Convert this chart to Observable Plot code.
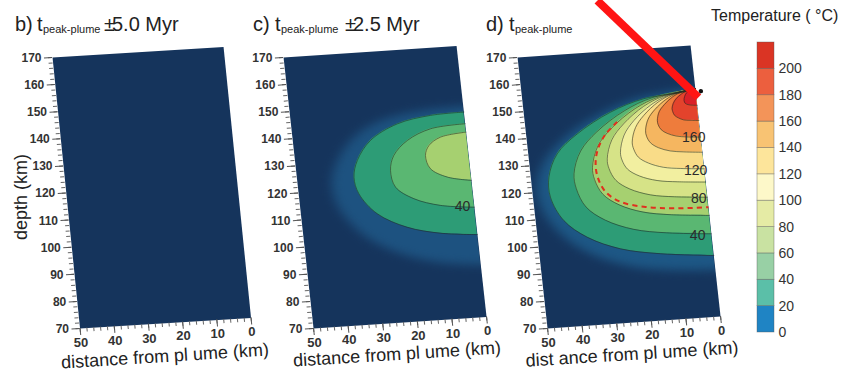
<!DOCTYPE html>
<html><head><meta charset="utf-8">
<script src="https://cdn.jsdelivr.net/npm/d3@7"></script>
<script src="https://cdn.jsdelivr.net/npm/@observablehq/plot@0.6"></script>
<style>
body{margin:0;background:#fff;font-family:"Liberation Sans",Arial,sans-serif;}
#chart{position:relative;width:843px;height:372px;overflow:hidden;background:#fff;}
.t{position:absolute;white-space:nowrap;color:#222;}
</style></head><body><div id="chart"></div>
<script>
// ---------- ticks ----------
const depthTicks = [70, 80, 90, 100, 110, 120, 130, 140, 150, 160, 170];
const distTicks = [0, 10, 20, 30, 40, 50];
const depthMinor = d3.range(70, 171, 2);
const distMinor = d3.range(0, 51, 2);

// ---------- colour levels ----------
const navy = "#15345c";
const fieldLevels = [20, 40, 60, 80, 100, 120, 140, 160, 180, 200];
const fieldColors = ["#2d9c76", "#5ab772", "#a6d070", "#d6e387", "#f2efa0", "#f9dc88", "#f5b660", "#ee7c3c", "#e3432c", "#da2028"];
const barLows = [0, 20, 40, 60, 80, 100, 120, 140, 160, 180, 200];
const barColors = ["#1f84c4", "#5bbfa8", "#98d0a5", "#c9e2a2", "#e5eba5", "#fdf8c9", "#fde59b", "#f8c373", "#f39459", "#ec5f3e", "#da3424"];
const barTicks = [0, 20, 40, 60, 80, 100, 120, 140, 160, 180, 200];

// ---------- panel c: isotherms [distance km, depth km] ----------
const c_iso20 = [[0,145.6],[9.7,145.2],[19.5,142.9],[27.7,137.5],[32.1,130.5],[33.6,124.4],[32.7,118.2],[28.1,110.5],[19.9,104.8],[10.5,101.8],[0,100.4]];
const c_iso40 = [[0,141.3],[10.1,140.3],[17.1,136.6],[21.5,131.4],[22.9,126],[22,119.8],[17.1,115.1],[9.7,112],[0,110.5]];
const c_iso60 = [[0,138.2],[7.5,137],[11.1,134.2],[12.4,130.6],[11.4,125.7],[6.8,122.2],[0,120.4]];
const c_halo = [[0,147.5],[12,147],[22,145],[31,140],[37,132],[40,123],[39,114],[33.5,104],[24,96],[12,91],[0,89]];
const c_labelText = ["40"];
const c_labelX = [3.4];
const c_labelDepth = [111.2];

// ---------- panel d: isotherms ----------
const d_iso20 = [[0,154],[3.4,153.1],[15.1,151.7],[25.1,147.6],[35.3,140.5],[41.7,133.7],[44.8,125.4],[45,118],[41.9,109.1],[35.7,102.4],[26.5,97.3],[15.2,94.5],[0,92.5]];
const d_iso40 = [[0,154],[12.8,151.8],[21,147.8],[29.6,140.8],[34.9,134.1],[37.5,126],[37.3,120.4],[35.1,113.5],[30,108.2],[22.1,104.1],[12.8,102],[0,100.5]];
const d_iso60 = [[0,154],[10.9,151.9],[17.9,148.3],[25.3,141.7],[29.8,135.5],[32,127.9],[31.8,123.4],[29.9,117.8],[25.6,113.5],[18.9,110.2],[10.9,108.5],[0,107.3]];
const d_iso80 = [[0,154],[9.4,152.1],[15.4,148.9],[21.7,143],[25.6,137.4],[27.5,130.6],[27.3,127],[25.7,122.5],[22,119],[16.2,116.3],[9.4,115],[0,114]];
const d_iso100 = [[0,154],[8,152.3],[13.2,149.3],[18.6,144],[21.9,138.9],[23.5,132.7],[23.3,129.8],[22,126.3],[18.8,123.5],[13.9,121.4],[8,120.4],[0,119.6]];
const d_iso120 = [[0,154],[6.7,152.6],[11.1,150.1],[15.6,145.6],[18.4,141.3],[19.8,136.1],[19.6,133.5],[18.5,130.4],[15.8,128],[11.7,126.1],[6.7,125.2],[0,124.5]];
const d_iso140 = [[0,154],[5.3,152.9],[8.7,150.9],[12.3,147.4],[14.5,144.1],[15.6,140],[15.5,137.9],[14.6,135.4],[12.5,133.4],[9.2,131.9],[5.3,131.2],[0,130.6]];
const d_iso160 = [[0,154],[4,153.2],[6.7,151.7],[9.4,149],[11.1,146.5],[11.9,143.4],[11.8,141.8],[11.1,139.9],[9.5,138.4],[7,137.2],[4,136.6],[0,136.2]];
const d_iso180 = [[0,154],[2.5,153.5],[4.1,152.5],[5.8,150.9],[6.8,149.2],[7.3,147.3],[7.2,146.2],[6.8,144.8],[5.8,143.8],[4.3,142.9],[2.5,142.6],[0,142.3]];
const d_iso200 = [[0,154],[1.5,153.6],[2.6,152.8],[3.3,151.5],[3.6,150],[3.4,149],[2.6,148.4],[1.4,148.1],[0,147.9]];
const d_dashed = [[23.5,143.8],[27.5,139.2],[30,134],[31,129],[30.8,124],[29,118.5],[25,114.5],[18,112],[10,110.8],[0,110.3]];
const d_halo = [[0,154],[16,152],[27,147.5],[38,140],[45.5,131],[48.5,122],[47.5,113],[43,104],[35,96],[24,90.5],[12,88],[0,87]];
const d_labelText = ["160", "120", "80", "40"];
const d_labelX = [2, 2.5, 2.5, 4];
const d_labelDepth = [136.3, 124.1, 113.6, 100.3];
const d_arrow = [[25.3,188.8],[-0.6,150.8]];
const d_dot = [[-1.5,153]];

// ---------- helpers ----------
const rows = (pts, level) => pts.map(([x, d]) => ({level, x, d}));
const field = (list) => list.flatMap(([lvl, pts]) => rows(pts, lvl));
const labelRows = (txt, xs, ds) => txt.map((t, i) => ({t, x: xs[i], d: ds[i]}));

const fieldC = field([[20, c_iso20], [40, c_iso40], [60, c_iso60]]);
const fieldD = field([[20, d_iso20], [40, d_iso40], [60, d_iso60], [80, d_iso80], [100, d_iso100],
  [120, d_iso120], [140, d_iso140], [160, d_iso160], [180, d_iso180], [200, d_iso200]]);

const chart = document.getElementById("chart");

function makePanel(cfg) {
  const FW = 170, FH = 271, mL = 50, mR = 25, mT = 70, mB = 50;
  const a = cfg.ex[0] / FW, b = cfg.ex[1] / FW, c = cfg.ey[0] / FH, d = cfg.ey[1] / FH;
  const e = cfg.tl[0] - a * mL - c * mT, f = cfg.tl[1] - b * mL - d * mT;
  const det = a * d - b * c;
  const inv = [d / det, -b / det, -c / det, a / det, 0, 0].join(",");
  const marks = [Plot.frame({fill: navy, stroke: "none"})];
  if (cfg.halo) marks.push(Plot.areaX(rows(cfg.halo, 0), {y: "d", x1: -4, x2: "x", fill: cfg.haloColor, curve: "catmull-rom", clip: true}));
  if (cfg.field) {
    marks.push(Plot.areaX(cfg.field, {y: "d", x1: 0, x2: "x", z: "level", fill: "level", curve: "catmull-rom"}));
    marks.push(Plot.line(cfg.field, {x: "x", y: "d", z: "level", stroke: "#1f2c22", strokeWidth: 0.9, strokeOpacity: 0.6, curve: "catmull-rom"}));
  }
  if (cfg.dashed) marks.push(Plot.line(rows(cfg.dashed, 0), {x: "x", y: "d", stroke: "#e0301e", strokeWidth: 2, strokeDasharray: "5,4", strokeLinecap: "butt", curve: "catmull-rom"}));
  if (cfg.labels) marks.push(Plot.text(cfg.labels, {x: "x", y: "d", text: "t", fontSize: 14, fill: "#2b2b2b"}));
  if (cfg.arrow) marks.push(Plot.line(rows(cfg.arrow, 0), {x: "x", y: "d", stroke: "#ff1414", strokeWidth: 8, strokeLinecap: "butt"}));
  if (cfg.dot) marks.push(Plot.dot(rows(cfg.dot, 0), {x: "x", y: "d", r: 2.2, fill: "#111", stroke: "none"}));
  marks.push(Plot.axisY(depthMinor, {anchor: "left", tickSize: 4, fill: "none", stroke: "#666", label: null}));
  marks.push(Plot.axisY(depthTicks, {anchor: "left", tickSize: 8, tickPadding: 3, fontSize: 12, fontWeight: "bold", fill: "#333", stroke: "#555", label: null}));
  marks.push(Plot.axisX(distMinor, {anchor: "bottom", tickSize: 4, fill: "none", stroke: "#666", label: null}));
  marks.push(Plot.axisX(distTicks, {anchor: "bottom", tickSize: 7, tickPadding: 2, fontSize: 13, fontWeight: "bold", fill: "#333", stroke: "#555", label: null}));

  const svg = Plot.plot({
    width: FW + mL + mR, height: FH + mT + mB,
    marginLeft: mL, marginRight: mR, marginTop: mT, marginBottom: mB,
    x: {domain: [50, 0], label: null},
    y: {domain: [70, 170], label: null},
    color: {type: "threshold", domain: fieldLevels.slice(1), range: fieldColors},
    style: {fontFamily: "Liberation Sans, Arial, sans-serif", background: "transparent", overflow: "visible"},
    marks
  });
  svg.style.position = "absolute";
  svg.style.left = "0px";
  svg.style.top = "0px";
  svg.style.overflow = "visible";
  svg.style.background = "transparent";
  svg.style.maxWidth = "none";
  svg.style.transformOrigin = "0 0";
  svg.style.transform = `matrix(${a},${b},${c},${d},${e},${f})`;
  if (cfg.halo) svg.querySelectorAll(`g[fill="${cfg.haloColor}"]`).forEach(g => g.style.filter = "blur(5px)");
  svg.querySelectorAll("text").forEach(t => {
    let tr = t.getAttribute("transform") || "";
    if (!/translate/.test(tr)) {
      const x = parseFloat(t.getAttribute("x")) || 0, y = parseFloat(t.getAttribute("y")) || 0;
      t.removeAttribute("x"); t.removeAttribute("y");
      tr = `translate(${x},${y}) ` + tr;
    }
    t.setAttribute("transform", tr + ` matrix(${inv})`);
  });
  chart.appendChild(svg);
}

makePanel({tl: [52, 57], ex: [171, -10.5], ey: [27.5, 271]});
makePanel({tl: [283, 57], ex: [173, -11.5], ey: [30, 271], field: fieldC, halo: c_halo, haloColor: "#1d5280",
  labels: labelRows(c_labelText, c_labelX, c_labelDepth)});
makePanel({tl: [517, 57], ex: [173, -12], ey: [30, 271], field: fieldD, halo: d_halo, haloColor: "#1d5785",
  dashed: d_dashed, labels: labelRows(d_labelText, d_labelX, d_labelDepth), arrow: d_arrow, dot: d_dot});

// ---------- colour bar ----------
const bar = Plot.plot({
  width: 103, height: 372, marginLeft: 17, marginRight: 69, marginTop: 42, marginBottom: 40,
  x: {domain: [0, 1], axis: null},
  y: {domain: [0, 220], label: null},
  color: {type: "threshold", domain: barLows.slice(1), range: barColors},
  style: {fontFamily: "Liberation Sans, Arial, sans-serif", background: "transparent", overflow: "visible"},
  marks: [
    Plot.rect(barLows, {x1: 0, x2: 1, y1: v => v, y2: v => v + 20, fill: v => v, stroke: "#555", strokeWidth: 0.7, strokeOpacity: 0.55}),
    Plot.axisY(barTicks, {anchor: "right", tickSize: 0, tickPadding: 4, fontSize: 14, fill: "#333", label: null})
  ]
});
bar.style.position = "absolute"; bar.style.left = "740px"; bar.style.top = "0px";
bar.style.background = "transparent"; bar.style.maxWidth = "none";
chart.appendChild(bar);

// ---------- texts ----------
function addText(html, left, top, size, extra = "") {
  const el = document.createElement("div");
  el.className = "t";
  el.innerHTML = html;
  el.style.cssText += `left:${left}px;top:${top}px;font-size:${size}px;line-height:${size}px;${extra}`;
  chart.appendChild(el);
}
const pm = "<span style='letter-spacing:-3px'>±</span>";
const titleParts = [
  ["b)", 15, 14, 20], ["t", 37, 14, 20], ["peak-plume", 43, 23.5, 11], [pm + "5.0 Myr", 104, 14, 20],
  ["c)", 253, 14, 20], ["t", 275, 14, 20], ["peak-plume", 281, 23.5, 11], [pm + "2.5 Myr", 345, 14, 20],
  ["d)", 486, 14, 20], ["t", 509, 14, 20], ["peak-plume", 515, 23.5, 11]
];
titleParts.forEach(([s, l, t, z]) => addText(s, l, t, z));
addText("Temperature ( °C)", 711, 7.5, 16);
addText("depth (km)", 21, 197, 18, "transform:translate(-50%,-50%) rotate(-90deg);");
const xTitles = [["distance from pl ume (km)", 165, 356], ["distance from pl ume (km)", 397, 354], ["dist ance from pl ume (km)", 632, 354]];
xTitles.forEach(([s, l, t]) => addText(s, l, t, 18, "transform:translate(-50%,-50%) rotate(-3.6deg);"));
</script></body></html>
